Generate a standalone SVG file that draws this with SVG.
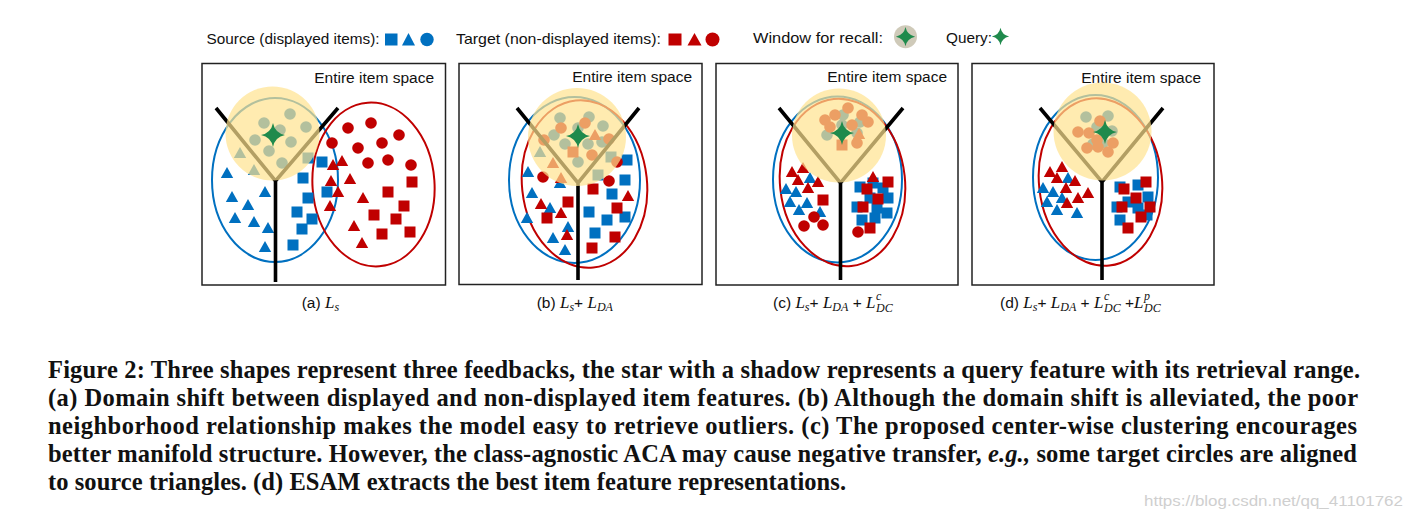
<svg xmlns="http://www.w3.org/2000/svg" xmlns:xlink="http://www.w3.org/1999/xlink" width="1413" height="520" viewBox="0 0 1413 520">
<style>
.box{fill:#fff;stroke:#222;stroke-width:1.5}
.lbl{font-family:"Liberation Sans",Arial,sans-serif;font-size:15.5px;fill:#111}
.leg{font-family:"Liberation Sans",Arial,sans-serif;font-size:14.5px;fill:#111}
.be{fill:none;stroke:#0070C0;stroke-width:2}
.re{fill:none;stroke:#C00000;stroke-width:2}
.b{fill:#0070C0}
.r{fill:#C00000}
.tree{fill:none;stroke:#000;stroke-width:3.6;stroke-linejoin:miter}
.win{fill:#FFE38F;opacity:0.7}
.q{fill:#1F8A4C}
.cap{font-family:"Liberation Sans",Arial,sans-serif;font-size:15.5px;fill:#111}
.m{font-family:"Liberation Serif","Times New Roman",serif;font-style:italic;font-size:17px}
.s{font-family:"Liberation Serif","Times New Roman",serif;font-style:italic;font-size:12px;fill:#111}
.fig{font-family:"Liberation Serif","Times New Roman",serif;font-weight:bold;font-size:24.5px;fill:#111}
.wm{font-family:"Liberation Sans",Arial,sans-serif;font-size:14px;fill:#cfcfcf}
</style>
<defs>
<path id="tri" d="M0,-6 L6.2,5 L-6.2,5Z"/>
<rect id="sq" x="-5.5" y="-5.5" width="11" height="11"/>
<circle id="ci" r="5.8"/>
<path id="star" d="M0,-12 Q2,-2 12,0 Q2,2 0,12 Q-2,2 -12,0 Q-2,-2 0,-12Z"/>
</defs>
<rect width="1413" height="520" fill="#fff"/>

<g id="legend">
<text class="leg" x="206.5" y="43.5" textLength="173" lengthAdjust="spacingAndGlyphs">Source (displayed items):</text>
<rect class="b" x="385" y="33.5" width="12.5" height="12"/>
<path class="b" d="M408.5,33 L415,45.5 L402,45.5Z"/>
<circle class="b" cx="427" cy="39.5" r="6.7"/>
<text class="leg" x="456" y="43.5" textLength="205" lengthAdjust="spacingAndGlyphs">Target (non-displayed items):</text>
<rect class="r" x="668.5" y="33.5" width="13" height="12"/>
<path class="r" d="M694.5,33 L701.5,45.5 L687.5,45.5Z"/>
<circle class="r" cx="712.5" cy="39.5" r="7"/>
<text class="leg" x="753" y="43" textLength="130" lengthAdjust="spacingAndGlyphs">Window for recall:</text>
<circle cx="905.5" cy="36.7" r="11.5" fill="#CFCAB9"/>
<use href="#star" class="q" transform="translate(905.5,36.7) scale(0.8)"/>
<text class="leg" x="946" y="43" textLength="46" lengthAdjust="spacingAndGlyphs">Query:</text>
<use href="#star" class="q" transform="translate(1000.5,36.5) scale(0.72)"/>
</g>

<g id="panel-a">
<rect class="box" x="202" y="63.5" width="243.5" height="221.5"/>
<text class="lbl" x="434" y="83" text-anchor="end">Entire item space</text>
<ellipse class="be" cx="275" cy="180" rx="63" ry="82"/>
<ellipse class="re" cx="373.5" cy="184.5" rx="61" ry="82" transform="rotate(-4 373.5 184.5)"/>
<g class="b">
<use href="#ci" x="264" y="123"/><use href="#ci" x="290" y="114"/><use href="#ci" x="306" y="127"/><use href="#ci" x="280" y="130"/><use href="#ci" x="255" y="140"/><use href="#ci" x="291" y="142"/><use href="#ci" x="269" y="151"/><use href="#ci" x="282" y="163"/>
<use href="#tri" x="240" y="153"/><use href="#tri" x="254" y="170"/>
<use href="#tri" x="227" y="173"/><use href="#tri" x="232" y="197"/><use href="#tri" x="248" y="205"/><use href="#tri" x="265" y="192"/><use href="#tri" x="235" y="218"/><use href="#tri" x="254" y="222"/><use href="#tri" x="268" y="228"/><use href="#tri" x="265" y="247"/>
<use href="#sq" x="308" y="158"/><use href="#sq" x="322" y="162"/><use href="#sq" x="303" y="178"/><use href="#sq" x="327" y="192"/><use href="#sq" x="308" y="198"/><use href="#sq" x="297" y="212"/><use href="#sq" x="312" y="219"/><use href="#sq" x="302" y="229"/><use href="#sq" x="293" y="245"/>
</g>
<g class="r">
<use href="#ci" x="348" y="128"/><use href="#ci" x="371" y="123"/><use href="#ci" x="399" y="135"/><use href="#ci" x="332" y="143"/><use href="#ci" x="358" y="148"/><use href="#ci" x="382" y="143"/><use href="#ci" x="368" y="163"/><use href="#ci" x="388" y="160"/><use href="#ci" x="411" y="165"/>
<use href="#tri" x="342" y="161"/><use href="#tri" x="333" y="165"/><use href="#tri" x="350" y="179"/><use href="#tri" x="331" y="181"/><use href="#tri" x="338" y="192"/><use href="#tri" x="363" y="198"/><use href="#tri" x="330" y="206"/><use href="#tri" x="354" y="226"/><use href="#tri" x="362" y="243"/>
<use href="#sq" x="412" y="182"/><use href="#sq" x="388" y="192"/><use href="#sq" x="404" y="206"/><use href="#sq" x="374" y="215"/><use href="#sq" x="396" y="219"/><use href="#sq" x="410" y="232"/><use href="#sq" x="382" y="234"/>
</g>
<path class="tree" d="M216,108 L275.5,181 L338,108 M275.5,181 L275.5,282"/>
<circle class="win" cx="272.5" cy="133.5" r="47"/>
<use href="#star" class="q" x="273" y="135"/>
</g>

<g id="panel-b">
<rect class="box" x="459" y="63.5" width="243" height="221"/>
<text class="lbl" x="692" y="82" text-anchor="end">Entire item space</text>
<ellipse class="be" cx="574.5" cy="180" rx="65.5" ry="83"/>
<ellipse class="re" cx="584.5" cy="184" rx="62.5" ry="84" transform="rotate(-6 584.5 184)"/>
<g class="b">
<use href="#ci" x="560" y="118"/><use href="#ci" x="589" y="117"/><use href="#ci" x="603" y="126"/><use href="#ci" x="554" y="135"/><use href="#ci" x="565" y="144"/><use href="#ci" x="578" y="128"/><use href="#ci" x="588" y="144"/><use href="#ci" x="602" y="142"/><use href="#ci" x="578" y="162"/>
<use href="#tri" x="540" y="152"/><use href="#sq" x="611" y="157"/>
<use href="#tri" x="528" y="172"/><use href="#tri" x="532" y="193"/><use href="#tri" x="550" y="208"/><use href="#tri" x="527" y="218"/><use href="#tri" x="568" y="227"/><use href="#tri" x="553" y="238"/><use href="#tri" x="565" y="250"/><use href="#tri" x="560" y="183"/>
<use href="#sq" x="627" y="160"/><use href="#sq" x="598" y="175"/><use href="#sq" x="625" y="180"/><use href="#sq" x="612" y="194"/><use href="#sq" x="589" y="212"/><use href="#sq" x="625" y="217"/><use href="#sq" x="607" y="220"/><use href="#sq" x="595" y="233"/>
</g>
<g class="r">
<use href="#ci" x="561" y="128"/><use href="#ci" x="585" y="123"/><use href="#ci" x="544" y="140"/><use href="#ci" x="609" y="139"/><use href="#ci" x="592" y="155"/>
<use href="#tri" x="595" y="135"/><use href="#tri" x="553" y="163"/><use href="#sq" x="573" y="152"/>
<use href="#ci" x="543" y="177"/><use href="#ci" x="617" y="162"/><use href="#ci" x="609" y="181"/>
<use href="#tri" x="561" y="178"/><use href="#tri" x="541" y="204"/><use href="#tri" x="561" y="213"/><use href="#tri" x="567" y="235"/><use href="#tri" x="628" y="196"/>
<use href="#sq" x="547" y="218"/><use href="#sq" x="568" y="202"/><use href="#sq" x="593" y="189"/><use href="#sq" x="617" y="208"/><use href="#sq" x="615" y="237"/><use href="#sq" x="592" y="248"/>
</g>
<path class="tree" d="M517,108 L578,183 L639,108 M578,183 L578,280"/>
<circle class="win" cx="577" cy="137" r="49"/>
<use href="#star" class="q" x="578" y="136"/>
</g>

<g id="panel-c">
<rect class="box" x="716" y="63.5" width="242" height="221.5"/>
<text class="lbl" x="947" y="82" text-anchor="end">Entire item space</text>
<ellipse class="be" cx="837.5" cy="179.5" rx="64.5" ry="83"/>
<ellipse class="re" cx="842.5" cy="182.5" rx="62.5" ry="84" transform="rotate(-6 842.5 182.5)"/>
<g class="b">
<use href="#ci" x="843" y="115"/><use href="#ci" x="860" y="122"/><use href="#ci" x="827" y="135"/><use href="#ci" x="857" y="133"/><use href="#ci" x="842" y="125"/>
<use href="#tri" x="810" y="178"/><use href="#tri" x="786" y="189"/><use href="#tri" x="796" y="192"/><use href="#tri" x="790" y="202"/><use href="#tri" x="799" y="210"/><use href="#tri" x="807" y="203"/><use href="#tri" x="820" y="212"/>
<use href="#sq" x="860" y="187"/><use href="#sq" x="873" y="183"/><use href="#sq" x="883" y="188"/><use href="#sq" x="888" y="198"/><use href="#sq" x="857" y="207"/><use href="#sq" x="870" y="198"/><use href="#sq" x="877" y="208"/><use href="#sq" x="887" y="213"/><use href="#sq" x="862" y="220"/><use href="#sq" x="875" y="218"/>
</g>
<g class="r">
<use href="#ci" x="825" y="120"/><use href="#ci" x="835" y="115"/><use href="#ci" x="848" y="108"/><use href="#ci" x="862" y="115"/><use href="#ci" x="868" y="122"/><use href="#ci" x="852" y="125"/><use href="#ci" x="830" y="127"/><use href="#ci" x="857" y="143"/>
<use href="#tri" x="859" y="134"/><use href="#sq" x="842" y="145"/>
<use href="#tri" x="792" y="172"/><use href="#tri" x="803" y="168"/><use href="#tri" x="798" y="180"/><use href="#tri" x="818" y="182"/><use href="#tri" x="808" y="188"/><use href="#tri" x="873" y="177"/>
<use href="#sq" x="823" y="200"/>
<use href="#ci" x="814" y="217"/><use href="#ci" x="804" y="226"/><use href="#ci" x="823" y="225"/>
<use href="#sq" x="867" y="189"/><use href="#sq" x="888" y="182"/><use href="#sq" x="878" y="199"/><use href="#sq" x="863" y="207"/><use href="#sq" x="870" y="228"/>
<use href="#ci" x="858" y="232"/>
</g>
<path class="tree" d="M779,108 L840.5,183 L903,108 M840.5,183 L840.5,280"/>
<circle class="win" cx="839" cy="135.5" r="47"/>
<use href="#star" class="q" x="842" y="133"/>
</g>

<g id="panel-d">
<rect class="box" x="972" y="63.5" width="242" height="221.5"/>
<text class="lbl" x="1201" y="83" text-anchor="end">Entire item space</text>
<ellipse class="be" cx="1095.5" cy="177.5" rx="62.5" ry="82.5"/>
<ellipse class="re" cx="1100.5" cy="182" rx="61.5" ry="84" transform="rotate(-6 1100.5 182)"/>
<g class="b">
<use href="#ci" x="1086" y="117"/><use href="#ci" x="1108" y="116"/><use href="#ci" x="1097" y="127"/><use href="#ci" x="1112" y="131"/><use href="#ci" x="1093" y="144"/><use href="#ci" x="1103" y="143"/>
<use href="#tri" x="1068" y="178"/><use href="#tri" x="1043" y="188"/><use href="#tri" x="1053" y="192"/><use href="#tri" x="1047" y="202"/><use href="#tri" x="1062" y="198"/><use href="#tri" x="1057" y="210"/><use href="#tri" x="1077" y="213"/>
<use href="#sq" x="1120" y="187"/><use href="#sq" x="1138" y="185"/><use href="#sq" x="1148" y="197"/><use href="#sq" x="1117" y="207"/><use href="#sq" x="1128" y="202"/><use href="#sq" x="1138" y="208"/><use href="#sq" x="1120" y="220"/><use href="#sq" x="1147" y="215"/>
</g>
<g class="r">
<use href="#ci" x="1078" y="132"/><use href="#ci" x="1089" y="133"/><use href="#ci" x="1100" y="121"/><use href="#ci" x="1113" y="143"/><use href="#ci" x="1087" y="148"/><use href="#ci" x="1098" y="147"/><use href="#ci" x="1108" y="152"/><use href="#ci" x="1097" y="140"/>
<use href="#tri" x="1050" y="172"/><use href="#tri" x="1062" y="167"/><use href="#tri" x="1057" y="178"/><use href="#tri" x="1075" y="181"/><use href="#tri" x="1066" y="188"/><use href="#tri" x="1078" y="198"/><use href="#tri" x="1088" y="193"/><use href="#tri" x="1067" y="203"/>
<use href="#sq" x="1124" y="189"/><use href="#sq" x="1146" y="182"/><use href="#sq" x="1136" y="198"/><use href="#sq" x="1122" y="207"/><use href="#sq" x="1150" y="207"/><use href="#sq" x="1141" y="217"/><use href="#sq" x="1128" y="228"/>
</g>
<path class="tree" d="M1040,108 L1102,182 L1163,108 M1102,182 L1102,280"/>
<circle class="win" cx="1102.5" cy="131.5" r="49"/>
<use href="#star" class="q" x="1105" y="132"/>
</g>

<g id="captions">
<text class="cap" x="301.7" y="308">(a) <tspan class="m">L</tspan><tspan class="s" dy="3">s</tspan></text>
<text class="cap" x="536.7" y="308">(b) <tspan class="m">L</tspan><tspan class="s" dy="3">s</tspan><tspan dy="-3">+ </tspan><tspan class="m">L</tspan><tspan class="s" dy="3">DA</tspan></text>
<text class="cap" x="773" y="308">(c) <tspan class="m">L</tspan><tspan class="s" dy="3">s</tspan><tspan dy="-3">+ </tspan><tspan class="m">L</tspan><tspan class="s" dy="3">DA</tspan><tspan dy="-3"> + </tspan><tspan class="m">L</tspan></text>
<text class="s" x="876" y="299.5">c</text>
<text class="s" x="876" y="312">DC</text>
<text class="cap" x="1000" y="308">(d) <tspan class="m">L</tspan><tspan class="s" dy="3">s</tspan><tspan dy="-3">+ </tspan><tspan class="m">L</tspan><tspan class="s" dy="3">DA</tspan><tspan dy="-3"> + </tspan><tspan class="m">L</tspan></text>
<text class="s" x="1104" y="299.5">c</text>
<text class="s" x="1104" y="312">DC</text>
<text class="cap" x="1125" y="308">+<tspan class="m">L</tspan></text>
<text class="s" x="1144" y="299.5">p</text>
<text class="s" x="1144" y="312">DC</text>
</g>

<g id="figure-caption">
<text class="fig" x="48" y="378" textLength="1312" lengthAdjust="spacing">Figure 2: Three shapes represent three feedbacks, the star with a shadow represents a query feature with its retrieval range.</text>
<text class="fig" x="48" y="406" textLength="1310" lengthAdjust="spacing">(a) Domain shift between displayed and non-displayed item features. (b) Although the domain shift is alleviated, the poor</text>
<text class="fig" x="48" y="434" textLength="1309" lengthAdjust="spacing">neighborhood relationship makes the model easy to retrieve outliers. (c) The proposed center-wise clustering encourages</text>
<text class="fig" x="48" y="462" textLength="1309" lengthAdjust="spacing">better manifold structure. However, the class-agnostic ACA may cause negative transfer, <tspan font-style="italic">e.g.,</tspan> some target circles are aligned</text>
<text class="fig" x="48" y="490" textLength="798" lengthAdjust="spacing">to source triangles. (d) ESAM extracts the best item feature representations.</text>
</g>
<text class="wm" x="1144" y="506" textLength="259" lengthAdjust="spacingAndGlyphs">https://blog.csdn.net/qq_41101762</text>
</svg>
